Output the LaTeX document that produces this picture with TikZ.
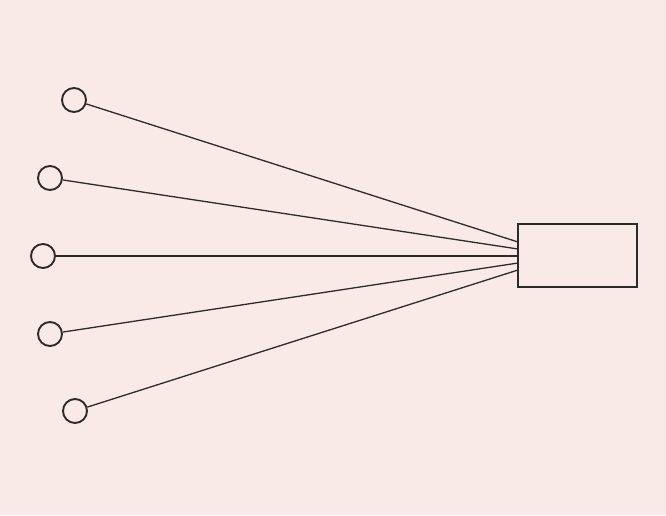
\documentclass[tikz,border=0pt]{standalone}
\definecolor{bgpink}{HTML}{F9EAE8}
\definecolor{ink}{HTML}{2E2A2A}
\begin{document}
\begin{tikzpicture}[x=1pt,y=-1pt,
  port/.style={circle,draw=ink,line width=1.9pt,minimum size=24pt,inner sep=0pt},
  box/.style={rectangle,draw=ink,line width=2pt,minimum width=119pt,minimum height=63pt,inner sep=0pt},
  wire/.style={draw=ink,line width=1.3pt}]
\fill[bgpink] (0,0) rectangle (666,515);
\useasboundingbox (0,0) rectangle (666,515);
\node[port] (c1) at (74,100) {};
\node[port] (c2) at (50,178) {};
\node[port] (c3) at (43,256) {};
\node[port] (c4) at (50,334) {};
\node[port] (c5) at (75,411) {};
\node[box] (r) at (577.5,255.5) {};
\coordinate (e1) at (518,242);
\coordinate (e2) at (518,249);
\coordinate (e3) at (518,256);
\coordinate (e4) at (518,263);
\coordinate (e5) at (518,270);
\draw[wire] (c1) -- (e1);
\draw[wire] (c2) -- (e2);
\draw[wire] (c3) -- (e3);
\draw[wire] (c4) -- (e4);
\draw[wire] (c5) -- (e5);
\end{tikzpicture}
\end{document}
